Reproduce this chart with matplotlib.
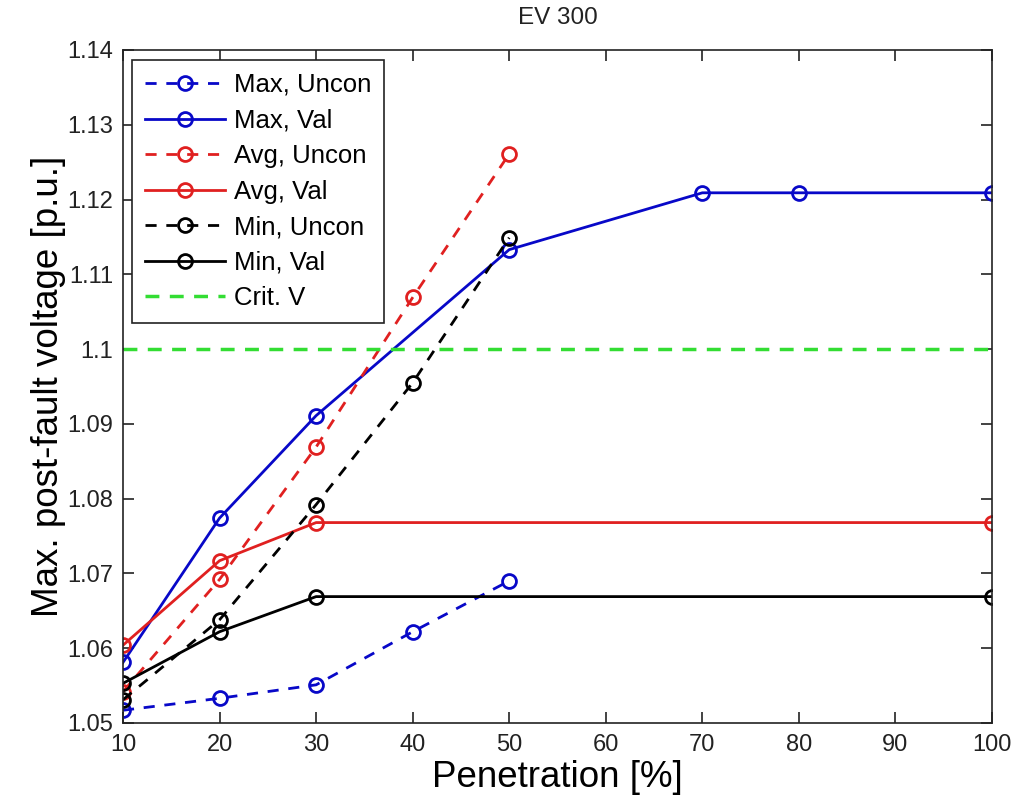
import matplotlib
matplotlib.use("Agg")
import matplotlib.pyplot as plt
from matplotlib.ticker import FuncFormatter

# penetration levels [%]
pen_uncon = [10, 20, 30, 40, 50]
pen_max_val = [10, 20, 30, 50, 70, 80, 100]
pen_val = [10, 20, 30, 100]

# max. post-fault voltage [p.u.]
max_uncon = [1.0517, 1.0533, 1.0551, 1.0622, 1.0690]
max_val = [1.0581, 1.0774, 1.0911, 1.1133, 1.1209, 1.1209, 1.1209]
avg_uncon = [1.0542, 1.0692, 1.0869, 1.1069, 1.1261]
avg_val = [1.0604, 1.0717, 1.0768, 1.0768]
min_uncon = [1.0531, 1.0638, 1.0792, 1.0955, 1.1149]
min_val = [1.0553, 1.0622, 1.0669, 1.0669]
crit_x = [10, 100]
crit_v = [1.1, 1.1]

plt.rcParams['font.family'] = ['Liberation Sans', 'DejaVu Sans']

fig = plt.figure(figsize=(10.14, 8.05), dpi=100)
ax = fig.add_axes([0.1213, 0.1019, 0.8570, 0.8360])

blue, red, green = '#0808c8', '#e02020', '#33dd33'
mk = dict(marker='o', markersize=10, markerfacecolor='none', markeredgewidth=2)
dash = (4, 3.5)

ax.plot(pen_uncon, max_uncon, '--', color=blue, lw=2, dashes=dash, label='Max, Uncon', **mk)
ax.plot(pen_max_val, max_val, '-', color=blue, lw=2, label='Max, Val', **mk)
ax.plot(pen_uncon, avg_uncon, '--', color=red, lw=2, dashes=dash, label='Avg, Uncon', **mk)
ax.plot(pen_val, avg_val, '-', color=red, lw=2, label='Avg, Val', **mk)
ax.plot(pen_uncon, min_uncon, '--', color='black', lw=2, dashes=dash, label='Min, Uncon', **mk)
ax.plot(pen_val, min_val, '-', color='black', lw=2, label='Min, Val', **mk)
ax.plot(crit_x, crit_v, '--', color=green, lw=2.5, dashes=(4, 3), label='Crit. V')

ax.set_xlim(10, 100)
ax.set_ylim(1.05, 1.14)
ax.set_xticks(range(10, 101, 10))
ax.set_yticks([1.05 + 0.01 * i for i in range(10)])
ax.yaxis.set_major_formatter(FuncFormatter(lambda v, p: '%g' % round(v, 2)))
ax.tick_params(direction='in', top=True, right=True, length=8, width=1.2,
               labelsize=17, colors='#222222')
ax.tick_params(axis='x', pad=8)
ax.tick_params(axis='y', pad=7)
for s in ax.spines.values():
    s.set_linewidth(1.2)
    s.set_color('#222222')

ax.set_title('EV 300', fontsize=17.5, pad=19, color='#222222')
ax.set_xlabel('Penetration [%]', fontsize=26.5, labelpad=3)
ax.set_ylabel('Max. post-fault voltage [p.u.]', fontsize=26.5, labelpad=1)

leg = ax.legend(loc='upper left', bbox_to_anchor=(0.0105, 0.985), fontsize=18.5,
                fancybox=False, framealpha=1, edgecolor='#222222',
                handlelength=3.1, handletextpad=0.35, labelspacing=0.45,
                borderpad=0.5, borderaxespad=0)
leg.get_frame().set_linewidth(1.2)

fig.savefig('out.png', dpi=100)
